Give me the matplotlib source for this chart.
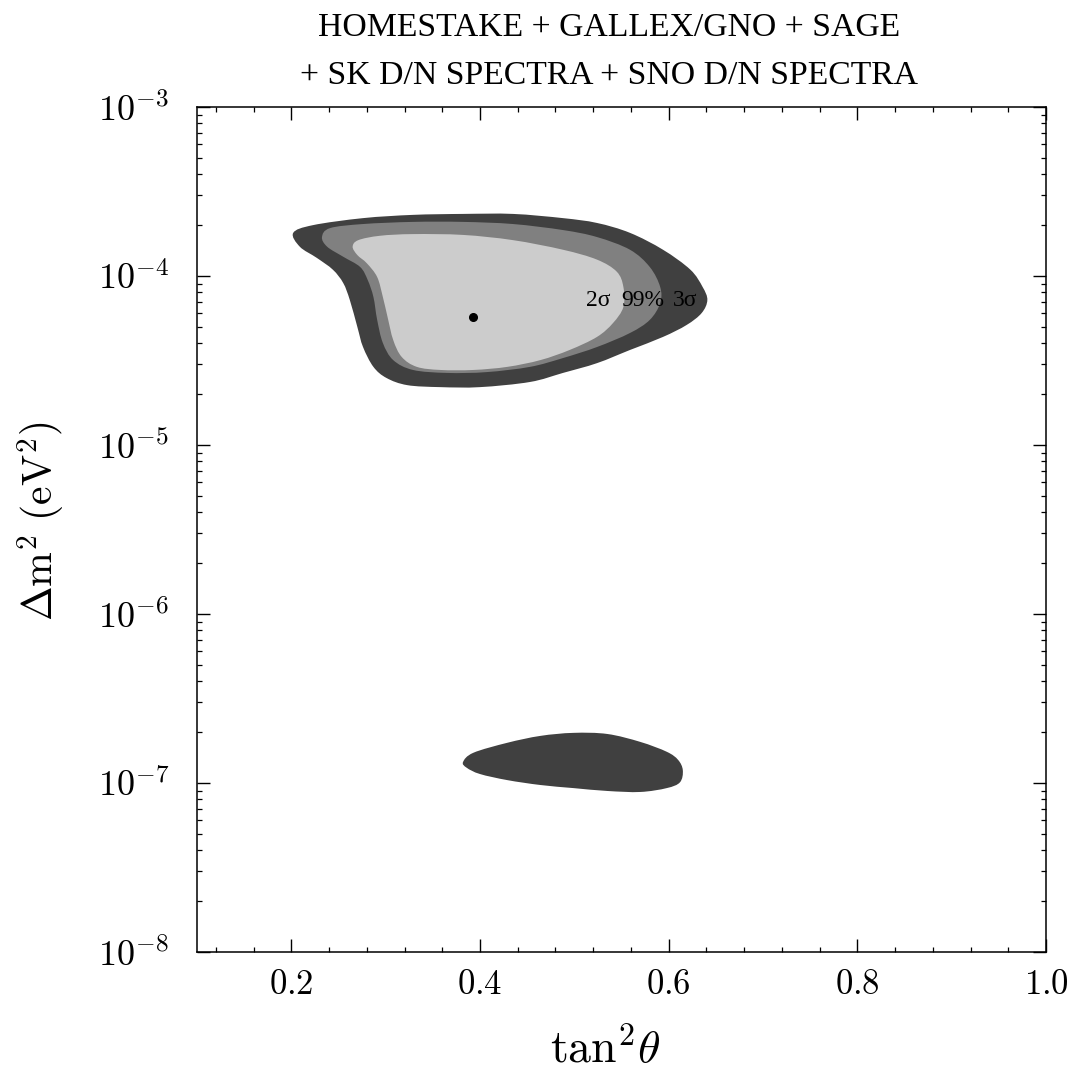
import numpy as np
import matplotlib
matplotlib.use("Agg")
import matplotlib.pyplot as plt
from matplotlib.ticker import FixedLocator, FuncFormatter, LogLocator, NullFormatter
from matplotlib.path import Path
from matplotlib.patches import PathPatch

plt.rcParams['mathtext.fontset'] = 'cm'

# ---- data (tan^2 theta, Delta m^2 in eV^2) ----
outer3s_x = [0.202, 0.223, 0.276, 0.329, 0.382, 0.435, 0.488, 0.524, 0.559, 0.594, 0.623,
             0.636, 0.641, 0.635, 0.619, 0.594, 0.559, 0.524, 0.488, 0.453, 0.400, 0.358,
             0.323, 0.301, 0.287, 0.276, 0.270, 0.262, 0.255, 0.244, 0.227, 0.209]
outer3s_y = [1.80e-4, 2.00e-4, 2.20e-4, 2.30e-4, 2.33e-4, 2.33e-4, 2.20e-4, 2.06e-4, 1.80e-4,
             1.43e-4, 1.09e-4, 8.61e-5, 7.21e-5, 6.04e-5, 5.13e-5, 4.36e-5, 3.65e-5, 3.05e-5,
             2.67e-5, 2.36e-5, 2.20e-5, 2.20e-5, 2.26e-5, 2.49e-5, 2.90e-5, 3.80e-5, 4.99e-5,
             7.21e-5, 9.09e-5, 1.09e-4, 1.28e-4, 1.49e-4]

mid99_x = [0.2325, 0.241, 0.276, 0.329, 0.382, 0.435, 0.488, 0.524, 0.559, 0.580, 0.591,
           0.591, 0.580, 0.559, 0.524, 0.488, 0.453, 0.407, 0.365, 0.329, 0.308, 0.297,
           0.291, 0.287, 0.281, 0.273, 0.255, 0.238]
mid99_y = [1.70e-4, 1.92e-4, 2.03e-4, 2.09e-4, 2.09e-4, 2.03e-4, 1.87e-4, 1.70e-4, 1.43e-4,
           1.13e-4, 8.61e-5, 6.92e-5, 5.50e-5, 4.60e-5, 3.80e-5, 3.27e-5, 2.90e-5, 2.70e-5,
           2.67e-5, 2.78e-5, 3.18e-5, 4.02e-5, 5.50e-5, 7.52e-5, 9.46e-5, 1.13e-4, 1.30e-4,
           1.49e-4]

inner2s_x = [0.265, 0.271, 0.294, 0.329, 0.382, 0.435, 0.488, 0.524, 0.545, 0.552, 0.552,
             0.541, 0.524, 0.495, 0.464, 0.429, 0.393, 0.358, 0.333, 0.317, 0.308, 0.302,
             0.297, 0.291, 0.280, 0.270]
inner2s_y = [1.49e-4, 1.63e-4, 1.73e-4, 1.77e-4, 1.75e-4, 1.63e-4, 1.43e-4, 1.25e-4, 1.06e-4,
             8.61e-5, 6.56e-5, 5.27e-5, 4.36e-5, 3.65e-5, 3.18e-5, 2.90e-5, 2.78e-5, 2.78e-5,
             2.90e-5, 3.32e-5, 4.18e-5, 5.72e-5, 7.52e-5, 9.86e-5, 1.19e-4, 1.33e-4]

low3s_x = [0.382, 0.393, 0.429, 0.464, 0.499, 0.535, 0.570, 0.598, 0.610, 0.615, 0.612,
           0.598, 0.570, 0.535, 0.499, 0.464, 0.429, 0.400, 0.386]
low3s_y = [1.33e-7, 1.51e-7, 1.73e-7, 1.90e-7, 1.98e-7, 1.95e-7, 1.75e-7, 1.53e-7, 1.37e-7,
           1.19e-7, 1.01e-7, 9.33e-8, 8.85e-8, 8.97e-8, 9.33e-8, 9.73e-8, 1.04e-7, 1.13e-7,
           1.23e-7]

best_fit_x = [0.393]
best_fit_y = [5.72e-5]

cl_labels = ["2\u03c3", "99%", "3\u03c3"]
cl_label_x = [0.525, 0.572, 0.617]
cl_label_y = [7.2e-5, 7.2e-5, 7.2e-5]

x_major = [0.2, 0.4, 0.6, 0.8, 1.0]
x_major_labels = ["0.2", "0.4", "0.6", "0.8", "1.0"]
y_major = [1e-8, 1e-7, 1e-6, 1e-5, 1e-4, 1e-3]

title_lines = ["HOMESTAKE + GALLEX/GNO + SAGE", "+ SK D/N SPECTRA + SNO D/N SPECTRA"]


def closed_smooth_path(xs, ys):
    """Closed curve through the boundary points (Catmull-Rom as cubic Bezier segments),
    built in (x, log10 y) so it is smooth on the log axis; vertices returned in data units."""
    p = np.column_stack([np.asarray(xs, float), np.log10(np.asarray(ys, float))])
    n = len(p)
    verts = [p[0]]
    codes = [Path.MOVETO]
    for i in range(n):
        p0, p1, p2, p3 = p[i - 1], p[i], p[(i + 1) % n], p[(i + 2) % n]
        c1 = p1 + (p2 - p0) / 6.0
        c2 = p2 - (p3 - p1) / 6.0
        verts += [c1, c2, p2]
        codes += [Path.CURVE4] * 3
    verts.append(p[0])
    codes.append(Path.CLOSEPOLY)
    v = np.array(verts)
    v[:, 1] = 10 ** v[:, 1]
    return Path(v, codes)


# ---- figure ----
W, H = 1073, 1071
fig = plt.figure(figsize=(W / 100, H / 100), dpi=100)
ax = fig.add_axes([197 / W, 1 - 952 / H, (1046 - 197) / W, (952 - 107) / H])
ax.set_yscale('log')
ax.set_xlim(0.1, 1.0)
ax.set_ylim(1e-8, 1e-3)

c_dark, c_mid, c_light = '#404040', '#808080', '#cccccc'
for xs, ys, col, z in [(outer3s_x, outer3s_y, c_dark, 1),
                       (mid99_x, mid99_y, c_mid, 2),
                       (inner2s_x, inner2s_y, c_light, 3),
                       (low3s_x, low3s_y, c_dark, 1)]:
    ax.add_patch(PathPatch(closed_smooth_path(xs, ys), facecolor=col, edgecolor='none',
                           lw=0, zorder=z, transform=ax.transData))
ax.plot(best_fit_x, best_fit_y, 'o', color='black', ms=5.5, zorder=5)

for t, xx, yy in zip(cl_labels, cl_label_x, cl_label_y):
    ax.text(xx, yy, t, ha='center', va='center', fontsize=17,
            family='Liberation Serif', color='black', zorder=6)

# ticks
lab = dict(zip(x_major, x_major_labels))
ax.xaxis.set_major_locator(FixedLocator(x_major))
ax.xaxis.set_major_formatter(FuncFormatter(
    lambda v, p: (r'$\mathrm{%s}$' % lab[round(v, 2)]) if round(v, 2) in lab else ''))
ax.xaxis.set_minor_locator(FixedLocator(list(np.round(np.arange(0.12, 1.0, 0.04), 2))))
ax.yaxis.set_major_locator(FixedLocator(y_major))
ax.yaxis.set_major_formatter(FuncFormatter(lambda v, p: r'$10^{%d}$' % int(round(np.log10(v)))))
ax.yaxis.set_minor_locator(LogLocator(base=10, subs=np.arange(2, 10), numticks=20))
ax.yaxis.set_minor_formatter(NullFormatter())

ax.tick_params(which='both', direction='in', top=True, right=True, color='black')
ax.tick_params(which='major', length=9.5, width=1.0)
ax.tick_params(which='minor', length=3.8, width=0.9)
ax.tick_params(axis='y', which='major', labelsize=26, pad=20)
ax.tick_params(axis='x', which='major', labelsize=25, pad=11)
for s in ax.spines.values():
    s.set_linewidth(1.1)

# axis labels
ax.set_xlabel(r'$\mathrm{tan}^2\theta$', fontsize=33, va='center', ha='center')
ax.xaxis.set_label_coords((605 - 197) / 849, (952 - 1050) / 845)
ax.set_ylabel(r'$\Delta\mathrm{m}^2\ (\mathrm{eV}^2)$', fontsize=30, va='center', ha='center')
ax.yaxis.set_label_coords((41 - 197) / 849, (952 - 521) / 845)

# title (two lines)
fig.text(609 / W, 1 - 28 / H, title_lines[0], ha='center', va='center',
         fontsize=24.3, family='Liberation Serif')
fig.text(609 / W, 1 - 76 / H, title_lines[1], ha='center', va='center',
         fontsize=24.3, family='Liberation Serif')

fig.savefig('out.png', dpi=100)
